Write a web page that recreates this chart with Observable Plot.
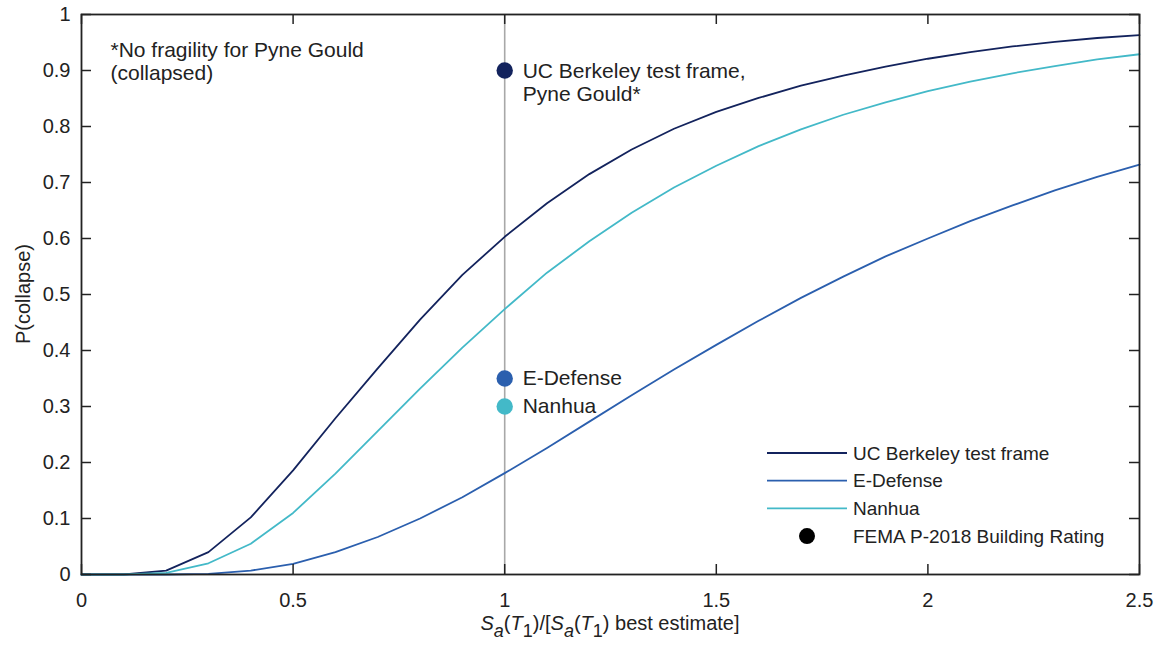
<!DOCTYPE html>
<html><head><meta charset="utf-8">
<script src="https://cdn.jsdelivr.net/npm/d3@7"></script>
<script src="https://cdn.jsdelivr.net/npm/@observablehq/plot@0.6"></script>
<style>body{margin:0;background:#fff;} svg{display:block;}</style>
</head><body><div id="chart"></div>
<script>
// ---- data ----
const sa = [0, 0.1, 0.2, 0.3, 0.4, 0.5, 0.6, 0.7, 0.8, 0.9, 1.0, 1.1, 1.2, 1.3, 1.4, 1.5, 1.6, 1.7, 1.8, 1.9, 2.0, 2.1, 2.2, 2.3, 2.4, 2.5];
const ucBerkeley = [0, 0, 0.007, 0.040, 0.102, 0.186, 0.279, 0.368, 0.455, 0.535, 0.603, 0.663, 0.715, 0.759, 0.796, 0.826, 0.851, 0.873, 0.891, 0.907, 0.921, 0.933, 0.943, 0.951, 0.958, 0.963];
const eDefense   = [0, 0, 0, 0.001, 0.007, 0.019, 0.040, 0.067, 0.100, 0.138, 0.181, 0.226, 0.273, 0.320, 0.366, 0.410, 0.453, 0.494, 0.532, 0.568, 0.600, 0.631, 0.659, 0.686, 0.710, 0.732];
const nanhua     = [0, 0, 0.003, 0.020, 0.055, 0.110, 0.180, 0.256, 0.332, 0.405, 0.474, 0.539, 0.595, 0.646, 0.691, 0.730, 0.765, 0.795, 0.821, 0.843, 0.863, 0.880, 0.895, 0.908, 0.920, 0.929];
const seriesNames  = ["UC Berkeley test frame", "E-Defense", "Nanhua"];
const seriesColors = ["#13235d", "#2b5fae", "#43b9c8"];
const ratingLabels = ["UC Berkeley test frame,\nPyne Gould*", "E-Defense", "Nanhua"];
const ratingValues = [0.9, 0.35, 0.3];
const ratingX = 1;
const ratingLegendLabel = "FEMA P-2018 Building Rating";
const xTicks = [0, 0.5, 1, 1.5, 2, 2.5];
const yTicks = [0, 0.1, 0.2, 0.3, 0.4, 0.5, 0.6, 0.7, 0.8, 0.9, 1];
const note = "*No fragility for Pyne Gould\n(collapsed)";
const yLabel = "P(collapse)";

// ---- build tables ----
const seriesValues = [ucBerkeley, eDefense, nanhua];
const lineRows = seriesNames.flatMap((s, k) => sa.map((x, i) => ({x, y: seriesValues[k][i], s})));
const ratingRows = seriesNames.map((s, k) => ({x: ratingX, y: ratingValues[k], s, label: ratingLabels[k]}));

const W = 1159, H = 647;
const mL = 81, mR = 20, mT = 14, mB = 73;
const pw = W - mL - mR, ph = H - mT - mB;
const font = "'Liberation Sans', Arial, Helvetica, sans-serif";
const ink = "#222";

const plot = Plot.plot({
  width: W, height: H,
  marginLeft: mL, marginRight: mR, marginTop: mT, marginBottom: mB,
  style: {fontFamily: font, fontSize: "20px", color: ink, background: "#fff", overflow: "visible"},
  x: {domain: [0, 2.5], label: null},
  y: {domain: [0, 1], label: null},
  color: {domain: seriesNames, range: seriesColors},
  marks: [
    Plot.ruleX([ratingX], {x: d => d, y1: 0, y2: 1, stroke: "#a8a8a8", strokeWidth: 1.6}),
    Plot.line(lineRows, {x: "x", y: "y", z: "s", stroke: "s", strokeWidth: 1.8}),
    Plot.dot(ratingRows, {x: "x", y: "y", fill: "s", r: 8.2, stroke: "none"}),
    Plot.text(ratingRows.slice(0, 1), {x: "x", y: "y", text: "label", textAnchor: "start", lineAnchor: "middle", dx: 18, dy: 11.5, lineHeight: 1.1, fontSize: 21, fill: ink}),
    Plot.text(ratingRows.slice(1), {x: "x", y: "y", text: "label", textAnchor: "start", lineAnchor: "middle", dx: 18, fontSize: 21, fill: ink}),
    Plot.text([note], {text: d => d, frameAnchor: "top-left", textAnchor: "start", lineAnchor: "top", dx: 29, dy: 26, lineHeight: 1.1, fontSize: 21, fill: ink}),
    // inward ticks on all four sides
    Plot.tickX(xTicks, {x: d => d, insetTop: ph - 10, stroke: ink, strokeWidth: 1.5}),
    Plot.tickX(xTicks, {x: d => d, insetBottom: ph - 10, stroke: ink, strokeWidth: 1.5}),
    Plot.tickY(yTicks, {y: d => d, insetRight: pw - 10, stroke: ink, strokeWidth: 1.5}),
    Plot.tickY(yTicks, {y: d => d, insetLeft: pw - 10, stroke: ink, strokeWidth: 1.5}),
    Plot.axisX({ticks: xTicks, tickSize: 0, tickPadding: 18, tickFormat: d => String(d), fontSize: 20, label: null}),
    Plot.axisY({ticks: yTicks, tickSize: 0, tickPadding: 11, tickFormat: d => String(d), fontSize: 20, label: null}),
    Plot.frame({stroke: ink, strokeWidth: 1.8})
  ]
});
document.getElementById("chart").appendChild(plot);

const svg = d3.select(plot);
const xs = plot.scale("x"), ys = plot.scale("y");

// x-axis label with italic symbols and subscripts
const xl = svg.append("text")
  .attr("x", (xs.apply(0) + xs.apply(2.5)) / 2).attr("y", 630)
  .attr("text-anchor", "middle").attr("font-family", font).attr("font-size", 20).attr("fill", ink);
const parts = [
  ["S", "i"], ["a", "subi"], ["(", ""], ["T", "i"], ["1", "sub"], [")/[", ""],
  ["S", "i"], ["a", "subi"], ["(", ""], ["T", "i"], ["1", "sub"], [") best estimate]", ""]
];
let prevSub = false;
for (const [t, kind] of parts) {
  const ts = xl.append("tspan").text(t);
  if (kind === "i" || kind === "subi") ts.attr("font-style", "italic");
  if (kind === "sub" || kind === "subi") { ts.attr("font-size", 18).attr("dy", prevSub ? 0 : 7); prevSub = true; }
  else if (prevSub) { ts.attr("dy", -7); prevSub = false; }
}

// y-axis label
svg.append("text")
  .attr("transform", `translate(30,${(ys.apply(0) + ys.apply(1)) / 2}) rotate(-90)`)
  .attr("text-anchor", "middle").attr("font-family", font).attr("font-size", 20).attr("fill", ink)
  .text(yLabel);

// legend (inside, lower right)
const lg = svg.append("g").attr("font-family", font).attr("font-size", 19).attr("fill", ink).attr("text-anchor", "start");
const legX0 = 767, legX1 = 847, legTX = 853, legY0 = 453, legDY = 27.7;
seriesNames.forEach((s, k) => {
  const y = legY0 + k * legDY;
  lg.append("line").attr("x1", legX0).attr("x2", legX1).attr("y1", y).attr("y2", y)
    .attr("stroke", seriesColors[k]).attr("stroke-width", 1.8);
  lg.append("text").attr("x", legTX).attr("y", y).attr("dy", "0.35em").attr("text-anchor", "start").text(s);
});
{
  const y = legY0 + 3 * legDY;
  lg.append("circle").attr("cx", (legX0 + legX1) / 2).attr("cy", y).attr("r", 8).attr("fill", "#000");
  lg.append("text").attr("x", legTX).attr("y", y).attr("dy", "0.35em").attr("text-anchor", "start").text(ratingLegendLabel);
}
</script>
</body></html>
